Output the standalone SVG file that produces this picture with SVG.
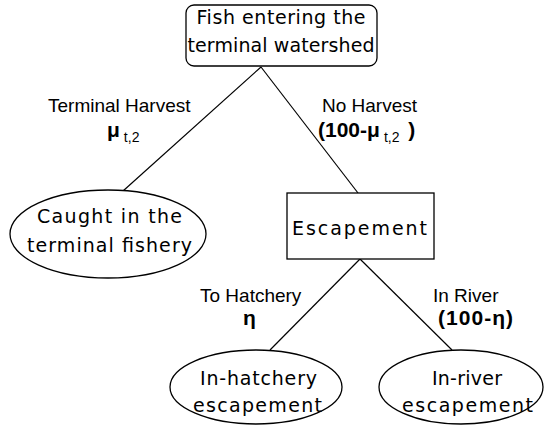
<svg xmlns="http://www.w3.org/2000/svg" width="545" height="427" viewBox="0 0 545 427">
<style>
.node{fill:#fff;stroke:#000;stroke-width:1.3}
.t{font-family:"DejaVu Sans",Verdana,sans-serif;font-size:19px;text-anchor:middle;fill:#000}
.l{font-family:"Liberation Sans",Arial,sans-serif;font-size:19px;fill:#000}
.b{font-family:"Liberation Sans",Arial,sans-serif;font-size:21px;font-weight:bold;fill:#000}
.s{font-size:14px;font-weight:normal}
.c{stroke:#000;stroke-width:1.2;fill:none}
</style>
<rect width="545" height="427" fill="#fff"/>
<g id="connectors">
<line class="c" x1="261" y1="67" x2="123" y2="191"/>
<line class="c" x1="261" y1="67" x2="358" y2="193"/>
<line class="c" x1="360" y1="259" x2="270" y2="350"/>
<line class="c" x1="360" y1="259" x2="452" y2="350"/>
</g>
<g id="labels">
<text class="l" x="48" y="112">Terminal Harvest</text>
<text class="b" x="107" y="137" font-size="22">μ<tspan class="s" dx="4" dy="5">t,2</tspan></text>
<text class="l" x="322" y="112">No Harvest</text>
<text class="b" x="318" y="137">(100-μ<tspan class="s" dx="4" dy="5">t,2</tspan><tspan dx="3" dy="-5"> )</tspan></text>
<text class="l" x="200" y="302">To Hatchery</text>
<text class="b" x="243" y="325">η</text>
<text class="l" x="433" y="302">In River</text>
<text class="b" x="438" y="325" font-size="22" textLength="75" lengthAdjust="spacing">(100-η)</text>
</g>
<g id="n-fish">
<rect class="node" x="186" y="5" width="191" height="61" rx="8"/>
<text class="t" x="281" y="24" textLength="169" lengthAdjust="spacing">Fish entering the</text>
<text class="t" x="281" y="52" textLength="187" lengthAdjust="spacing">terminal watershed</text>
</g>
<g id="n-caught">
<ellipse class="node" cx="108" cy="234" rx="98" ry="44"/>
<text class="t" x="109.5" y="223" textLength="145" lengthAdjust="spacing">Caught in the</text>
<text class="t" x="109.5" y="252" textLength="165" lengthAdjust="spacing">terminal fishery</text>
</g>
<g id="n-escapement">
<rect class="node" x="287" y="193" width="147" height="66"/>
<text class="t" x="359.5" y="235" textLength="135" lengthAdjust="spacing">Escapement</text>
</g>
<g id="n-hatchery">
<ellipse class="node" cx="256" cy="387" rx="86" ry="37"/>
<text class="t" x="258.5" y="385" textLength="117" lengthAdjust="spacing">In-hatchery</text>
<text class="t" x="257.5" y="412" textLength="129" lengthAdjust="spacing">escapement</text>
</g>
<g id="n-river">
<ellipse class="node" cx="461" cy="387" rx="82" ry="37"/>
<text class="t" x="467" y="385" textLength="70" lengthAdjust="spacing">In-river</text>
<text class="t" x="467.5" y="412" textLength="131" lengthAdjust="spacing">escapement</text>
</g>
</svg>
